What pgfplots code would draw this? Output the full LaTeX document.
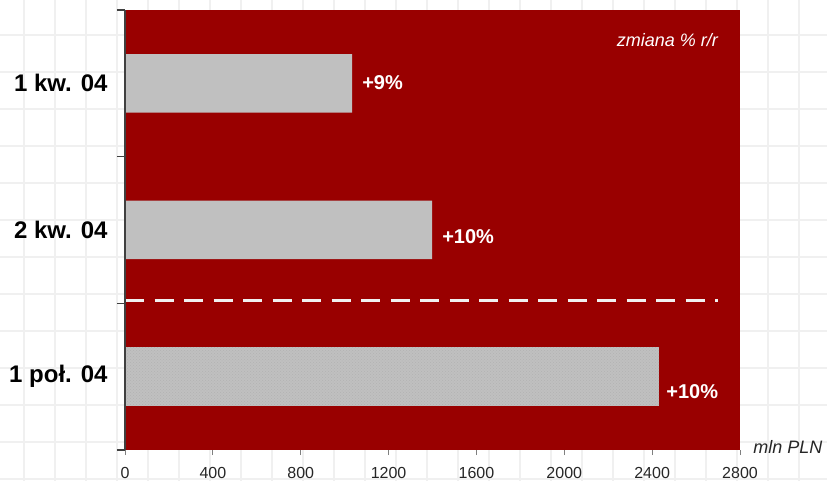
\documentclass[border=0pt]{standalone}
\usepackage{fontspec}
\setmainfont{Liberation Sans}
\usepackage{pgfplots}
\pgfplotsset{compat=1.18}
\usetikzlibrary{patterns}
\definecolor{bgred}{HTML}{990000}
\definecolor{barg}{HTML}{C0C0C0}
\definecolor{gridc}{HTML}{F0F0F0}
\definecolor{axisc}{HTML}{404040}
\begin{document}
\begin{tikzpicture}
\fill[white] (0pt,0pt) rectangle (827pt,-481pt);
\useasboundingbox (0pt,0pt) rectangle (827pt,-481pt);
\foreach \gx in {24,55,...,830} \draw[gridc, line width=1.3pt] (\gx pt,0pt) -- (\gx pt,-481pt);
\foreach \gy in {35,72,...,480} \draw[gridc, line width=1.3pt] (0pt,-\gy pt) -- (827pt,-\gy pt);
\begin{axis}[
  at={(125pt,-10pt)}, anchor=north west,
  scale only axis, width=615pt, height=440pt,
  xmin=0, xmax=2800, ymin=-0.5, ymax=2.5,
  clip=false,
  axis background/.style={fill=bgred},
  axis lines*=left,
  axis line style={draw=none},
  tick align=outside,
  major tick length=5pt,
  xtick={0,400,...,2800},
  xtick style={draw=gray, line width=0.8pt},
  xticklabel style={font=\fontsize{16}{19}\selectfont, text=black!85, yshift=-9pt},
  /pgf/number format/assume math mode=true,
  /pgf/number format/1000 sep={},
  ytick={0,1,2},
  yticklabels={1 poł. 04, 2 kw. 04, 1 kw. 04},
  ytick style={draw=none},
  yticklabel style={font=\bfseries\fontsize{24}{28}\selectfont, text=black, xshift=-9pt},
  extra y ticks={-0.5,0.5,1.5,2.5},
  extra y tick labels={},
  extra y tick style={major tick length=8pt, ytick style={draw=axisc, line width=1.5pt}},
]
\addplot[xbar, bar width=58.5pt, bar shift=0pt, draw=none, fill=barg] coordinates {(1034,2) (1398,1)};
\addplot[xbar, bar width=58.5pt, bar shift=0pt, draw=none, fill=barg, postaction={pattern=crosshatch dots, pattern color=gray!60}] coordinates {(2432,0)};
\addplot[draw=white!88!gray, line width=3pt, dash pattern=on 19pt off 10.5pt] coordinates {(0,0.52) (2700,0.52)};
\draw[axisc, line width=2.6pt] (rel axis cs:0,0) -- (rel axis cs:0,1);
\node[anchor=west, inner sep=0pt, xshift=10pt, yshift=1pt, text=white, font=\bfseries\fontsize{20}{24}\selectfont] at (axis cs:1034,2) {+9\%};
\node[anchor=west, inner sep=0pt, xshift=10pt, yshift=-7pt, text=white, font=\bfseries\fontsize{20}{24}\selectfont] at (axis cs:1398,1) {+10\%};
\node[anchor=west, inner sep=0pt, xshift=7pt, yshift=-15pt, text=white, font=\bfseries\fontsize{20}{24}\selectfont] at (axis cs:2432,0) {+10\%};
\node[anchor=east, inner sep=0pt, text=white, font=\itshape\fontsize{18}{21}\selectfont] at (axis cs:2700,2.2955) {zmiana \% r/r};
\node[anchor=west, inner sep=0pt, text=black!85, font=\itshape\fontsize{18}{21}\selectfont] at (axis cs:2860,-0.48) {mln PLN};
\end{axis}
\end{tikzpicture}
\end{document}
